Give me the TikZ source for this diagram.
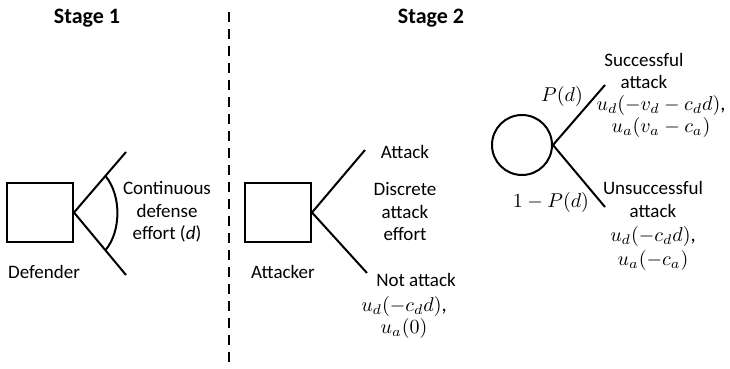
\documentclass[tikz,border=0pt]{standalone}
\usepackage{fontspec}
\setmainfont{Carlito}
\usepackage{amsmath}
\usetikzlibrary{arrows,calc,positioning}

\begin{document}
\begin{tikzpicture}[auto, x=.5pt, y=-.5pt, font=\fontsize{9.5}{11.25}\selectfont]
\tikzset{block/.style = {draw, rectangle, line width=1pt, minimum height=29.5pt,
  minimum width=33pt, inner sep=0pt}}
\tikzset{chance/.style = {draw, circle, line width=1pt, minimum size=30pt,
  inner sep=0pt}}
\tikzset{branch/.style = {line width=1pt}}
\tikzset{txt/.style = {align=center, inner sep=0pt}}
\tikzset{payoff/.style = {txt, font=\fontsize{10.3}{11}\selectfont}}
\tikzset{stage/.style = {inner sep=0pt, font=\fontsize{11}{13}\selectfont\bfseries}}

  \useasboundingbox (0,0) rectangle (730,369);

  % stage 1
  \node[stage] (stageone) at (87,18) {Stage 1};
  \node[block] (defender) at (40,212.5) {};
  \node[txt, node distance=29.75pt, below of=defender, xshift=2pt]
    (defenderlabel) {Defender};
  \coordinate (deftop) at (126,152);
  \coordinate (defbot) at (126,275);
  \draw[branch] (defender.east) -- coordinate[pos=.604] (defarcA) (deftop);
  \draw[branch] (defender.east) -- coordinate[pos=.604] (defarcB) (defbot);
  \draw[branch] (defarcA) .. controls +(16,19) and +(16,-19) .. (defarcB);
  \node[txt] (effortd) at (167,212) {Continuous\\defense\\effort (\textit{d})};

  % divider
  \coordinate (divtop) at (229,12);
  \coordinate (divbot) at (229,366);
  \draw[line width=1pt, dash pattern=on 5pt off 3.5pt] (divtop) -- (divbot);

  % stage 2
  \node[stage] (stagetwo) at (431,18) {Stage 2};
  \node[block] (attacker) at (278,212.5) {};
  \node[txt, node distance=29.75pt, below of=attacker, xshift=2.5pt]
    (attackerlabel) {Attacker};
  \coordinate (atttop) at (365,150);
  \coordinate (attbot) at (367,273);
  \draw[branch] (attacker.east) -- (atttop);
  \draw[branch] (attacker.east) -- (attbot);
  \node[txt] (attack) at (405,152) {Attack};
  \node[txt] (discrete) at (405,212) {Discrete\\attack\\effort};
  \node[txt] (notattack) at (416,280) {Not attack};
  \node[payoff] (notattackpay) at (404,318) {$u_d(-c_d d)$,\\$u_a(0)$};

  \node[chance] (nature) at (522,145) {};
  \coordinate (succtop) at (605,85);
  \coordinate (failbot) at (605,207);
  \draw[branch] (nature.east) -- (succtop);
  \draw[branch] (nature.east) -- (failbot);
  \node[payoff] (prob) at (562,97) {$P(d)$};
  \node[payoff] (probfail) at (551,203) {$1-P(d)$};

  \node[txt] (success) at (644,71) {Successful\\attack};
  \node[payoff] (successpay) at (661,117)
    {$u_d(-v_d-c_d d)$,\\$u_a(v_a-c_a)$};
  \node[txt] (failure) at (653,226)
    {Unsuccessful\\attack\\[1pt]{\fontsize{10.3}{11}\selectfont$u_d(-c_d d)$,}\\[.5pt]
     {\fontsize{10.3}{11}\selectfont$u_a(-c_a)$}};

\end{tikzpicture}
\end{document}
